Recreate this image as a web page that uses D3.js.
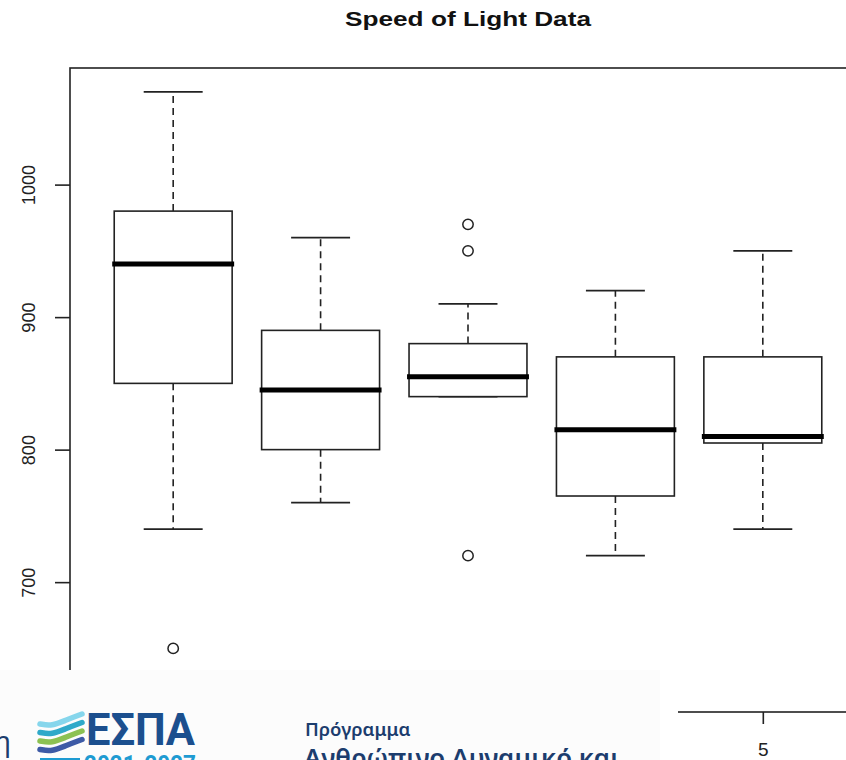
<!DOCTYPE html>
<html>
<head>
<meta charset="utf-8">
<script src="https://cdn.jsdelivr.net/npm/d3@7"></script>
<style>
  html, body { margin: 0; padding: 0; background: #ffffff; }
  svg { display: block; }
</style>
</head>
<body>
<svg id="chart" width="846" height="760"></svg>
<script>
// Michelson speed-of-light experiments: box summaries per experiment
const experiments  = [1, 2, 3, 4, 5];
const whiskerLow   = [740, 760, 840, 720, 740];
const quartile1    = [850, 800, 840, 765, 805];
const medians      = [940, 845, 855, 815, 810];
const quartile3    = [980, 890, 880, 870, 870];
const whiskerHigh  = [1070, 960, 910, 920, 950];
const outliers     = [[650], [], [720, 950, 970], [], []];
const yTicks       = [700, 800, 900, 1000];
const xTicks       = [1, 2, 3, 4, 5];
const yDomain      = [602, 1088];

const svg = d3.select("#chart");
const plot = { left: 70, right: 866, top: 68, bottom: 712 };
const bannerBox = { x: 0, y: 670, w: 678, h: 90 };

const x = d3.scaleLinear().domain([0.3, 5.7]).range([plot.left, plot.right]);
const y = d3.scaleLinear().domain(yDomain).range([plot.bottom, plot.top]);

const ink = "#222";
const boxHalf = 0.4, capHalf = 0.2;
const labelFont = "Liberation Sans, Arial, sans-serif";

// Title
svg.append("text")
  .attr("x", (plot.left + plot.right) / 2)
  .attr("y", 26)
  .attr("text-anchor", "middle")
  .attr("font-family", labelFont)
  .attr("font-weight", "bold")
  .attr("font-size", 21)
  .attr("textLength", 246)
  .attr("lengthAdjust", "spacingAndGlyphs")
  .attr("fill", "#111")
  .text("Speed of Light Data");

const g = svg.append("g");

const rows = experiments.map((e, i) => ({
  e, lo: whiskerLow[i], q1: quartile1[i], med: medians[i],
  q3: quartile3[i], hi: whiskerHigh[i], out: outliers[i]
}));

const box = g.selectAll("g.box").data(rows).enter().append("g").attr("class", "box");

// dashed whiskers
box.append("line")
  .attr("x1", d => x(d.e)).attr("x2", d => x(d.e))
  .attr("y1", d => y(d.q3)).attr("y2", d => y(d.hi))
  .attr("stroke", ink).attr("stroke-width", 1.6).attr("stroke-dasharray", "7,5");
box.append("line")
  .attr("x1", d => x(d.e)).attr("x2", d => x(d.e))
  .attr("y1", d => y(d.q1)).attr("y2", d => y(d.lo))
  .attr("stroke", ink).attr("stroke-width", 1.6).attr("stroke-dasharray", "7,5");

// whisker caps
box.append("line")
  .attr("x1", d => x(d.e - capHalf)).attr("x2", d => x(d.e + capHalf))
  .attr("y1", d => y(d.hi)).attr("y2", d => y(d.hi))
  .attr("stroke", ink).attr("stroke-width", 1.6);
box.append("line")
  .attr("x1", d => x(d.e - capHalf)).attr("x2", d => x(d.e + capHalf))
  .attr("y1", d => y(d.lo)).attr("y2", d => y(d.lo))
  .attr("stroke", ink).attr("stroke-width", 1.6);

// boxes
box.append("rect")
  .attr("x", d => x(d.e - boxHalf))
  .attr("width", d => x(d.e + boxHalf) - x(d.e - boxHalf))
  .attr("y", d => y(d.q3))
  .attr("height", d => y(d.q1) - y(d.q3))
  .attr("fill", "#fff")
  .attr("stroke", ink).attr("stroke-width", 1.6);

// medians
box.append("line")
  .attr("x1", d => x(d.e - boxHalf) - 2).attr("x2", d => x(d.e + boxHalf) + 2)
  .attr("y1", d => y(d.med)).attr("y2", d => y(d.med))
  .attr("stroke", "#000").attr("stroke-width", 5);

// outliers
box.selectAll("circle").data(d => d.out.map(v => ({ e: d.e, v }))).enter()
  .append("circle")
  .attr("cx", d => x(d.e)).attr("cy", d => y(d.v))
  .attr("r", 5.2)
  .attr("fill", "none").attr("stroke", ink).attr("stroke-width", 1.5);

// plot frame
svg.append("rect")
  .attr("x", plot.left).attr("y", plot.top)
  .attr("width", plot.right - plot.left).attr("height", plot.bottom - plot.top)
  .attr("fill", "none").attr("stroke", ink).attr("stroke-width", 1.6);

// y axis
const yAxis = svg.append("g").attr("transform", `translate(${plot.left},0)`)
  .call(d3.axisLeft(y).tickValues(yTicks).tickSize(15).tickPadding(0).tickFormat(d3.format("d")));
yAxis.select(".domain").remove();
yAxis.selectAll(".tick line").attr("stroke", ink).attr("stroke-width", 1.6);
yAxis.selectAll(".tick text")
  .attr("x", 0).attr("y", 0)
  .attr("dy", null)
  .attr("text-anchor", "middle")
  .attr("transform", "translate(-35,0) rotate(-90)")
  .attr("font-family", labelFont)
  .attr("font-size", 18)
  .attr("fill", "#222");

// x axis: only the ticks to the right of the banner remain in view
const xAxis = svg.append("g").attr("transform", `translate(0,${plot.bottom})`)
  .call(d3.axisBottom(x)
    .tickValues(xTicks.filter(t => x(t) > bannerBox.x + bannerBox.w))
    .tickSize(12).tickPadding(19).tickFormat(d3.format("d")));
xAxis.select(".domain").remove();
xAxis.selectAll(".tick line").attr("stroke", ink).attr("stroke-width", 1.6);
xAxis.selectAll(".tick text")
  .attr("font-family", labelFont)
  .attr("font-size", 19)
  .attr("fill", "#222");

// Programme banner laid across the lower left
const banner = svg.append("g");
banner.append("rect")
  .attr("x", bannerBox.x).attr("y", bannerBox.y)
  .attr("width", bannerBox.w).attr("height", bannerBox.h)
  .attr("fill", "#ffffff");
banner.append("rect")
  .attr("x", bannerBox.x).attr("y", bannerBox.y)
  .attr("width", 660).attr("height", bannerBox.h)
  .attr("fill", "#fcfcfc");

banner.append("text")
  .attr("x", -6).attr("y", 751)
  .attr("font-family", "Noto Sans, sans-serif")
  .attr("font-size", 28)
  .attr("fill", "#1c3d6e")
  .text("η");

// wave emblem
const waveColors = ["#86d6ec", "#2fa9c9", "#8cc152", "#3d5aa6"];
const wave = d3.line().curve(d3.curveBasis);
waveColors.forEach((c, i) => {
  const y0 = 722 + i * 8.5;
  banner.append("path")
    .attr("d", wave([[40, y0 + 2], [52, y0 + 4], [66, y0 - 2], [82, y0 - 8]]))
    .attr("fill", "none").attr("stroke", c).attr("stroke-width", 5.5)
    .attr("stroke-linecap", "round");
});

banner.append("text")
  .attr("x", 86).attr("y", 745)
  .attr("font-family", "Roboto, Noto Sans, sans-serif")
  .attr("font-weight", "bold")
  .attr("font-size", 45)
  .attr("textLength", 109)
  .attr("lengthAdjust", "spacingAndGlyphs")
  .attr("fill", "#1b4f8e")
  .text("ΕΣΠΑ");

banner.append("text")
  .attr("x", 84).attr("y", 774)
  .attr("font-family", "Roboto, Noto Sans, sans-serif")
  .attr("font-weight", "bold")
  .attr("font-size", 26)
  .attr("textLength", 112)
  .attr("lengthAdjust", "spacingAndGlyphs")
  .attr("fill", "#1e9bd2")
  .text("2021-2027");
banner.append("line")
  .attr("x1", 40).attr("x2", 80).attr("y1", 759).attr("y2", 759)
  .attr("stroke", "#1e9bd2").attr("stroke-width", 2);

banner.append("text")
  .attr("x", 305).attr("y", 736)
  .attr("font-family", "Noto Sans, sans-serif")
  .attr("font-weight", "600")
  .attr("font-size", 18.5)
  .attr("fill", "#1c3d6e")
  .text("Πρόγραμμα");

banner.append("text")
  .attr("x", 304).attr("y", 767)
  .attr("font-family", "Noto Sans, sans-serif")
  .attr("font-weight", "600")
  .attr("font-size", 26)
  .attr("textLength", 316)
  .attr("lengthAdjust", "spacingAndGlyphs")
  .attr("fill", "#1c3d6e")
  .text("Ανθρώπινο Δυναμικό και");
</script>
</body>
</html>
